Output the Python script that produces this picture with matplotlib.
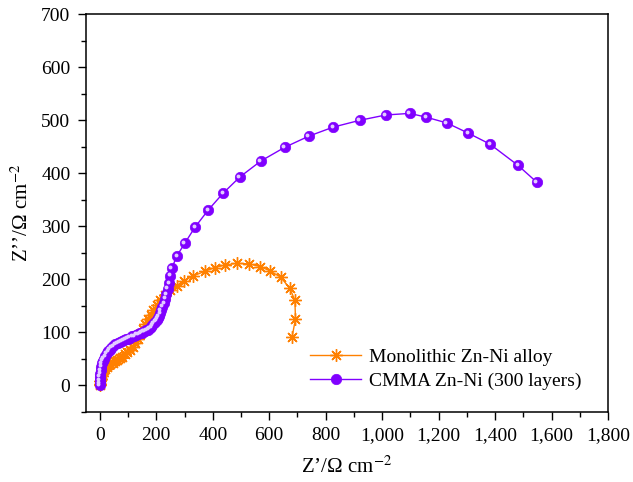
import matplotlib
matplotlib.use("Agg")
import matplotlib.pyplot as plt
from matplotlib.ticker import MultipleLocator, FuncFormatter
from matplotlib.transforms import offset_copy

plt.rcParams['font.family'] = ['Liberation Serif', 'DejaVu Serif']
plt.rcParams['mathtext.fontset'] = 'stix'

# Nyquist data (Z' real, Z'' imaginary), Ohm cm^-2
mono_zre = [0, 1, 2, 4, 6, 9, 13, 18, 24, 30, 37, 45, 53, 62, 71, 80, 89, 98,
            107, 116, 125, 134, 143, 152, 161, 170, 180, 190, 201, 214, 230,
            250, 272, 298, 330, 372, 407, 445, 485, 529, 567, 602, 640, 673,
            691, 693, 681]
mono_zim = [0, 3, 7, 12, 17, 22, 27, 31, 35, 38, 40, 42, 45, 48, 51, 54, 58, 62,
            67, 73, 80, 88, 97, 106, 115, 124, 133, 142, 151, 160, 170,
            180, 188, 197, 206, 215, 222, 227, 230, 229, 224, 216, 204, 183,
            160, 125, 91]

cmma_zre = [0, 0, 0, 0, 1, 2.5, 4, 7, 10, 14, 19, 24, 30, 35, 41, 47, 55, 63,
            70, 78, 85, 92, 99, 106, 114, 122, 129, 136, 142, 148, 154, 159,
            165, 171, 176, 181, 186, 191, 196, 201, 205, 209, 213, 216, 221,
            227, 231, 236, 241, 246, 250, 255, 273, 301, 337, 383, 436, 496,
            570, 655, 740, 826, 921, 1013, 1098, 1155, 1229, 1304, 1382, 1481,
            1548]
cmma_zim = [0, 4, 9, 16, 22, 28, 35, 41, 46, 50, 55, 60, 64, 67, 71, 74, 77, 79,
            81, 83, 85, 87, 88, 90, 92, 93, 95, 96, 98, 99, 101, 102,
            104, 105, 108, 110, 113, 117, 120, 123, 127, 130, 136, 142, 148,
            155, 163, 172, 182, 192, 207, 221, 244, 268, 298, 330, 362, 393,
            423, 449, 470, 487, 500, 510, 513, 506, 495, 476, 455, 415,
            383]

labels = ["Monolithic Zn-Ni alloy", "CMMA Zn-Ni (300 layers)"]
orange = "#FF8000"
violet = "#8000FF"

fig = plt.figure(figsize=(6.33, 4.82), dpi=100)
ax = fig.add_axes([0.1354, 0.1459, 0.8251, 0.8244])

ax.plot(mono_zre, mono_zim, color=orange, lw=1.0, marker=(8, 2, 0),
        markersize=9, markeredgewidth=1.0, label=labels[0], zorder=3)
ax.plot(cmma_zre, cmma_zim, color=violet, lw=1.0, marker='o',
        markersize=7.5, markerfacecolor=violet, markeredgecolor=violet,
        markeredgewidth=0.5, label=labels[1], zorder=4)
# glossy highlight on the spheres
hl = offset_copy(ax.transData, fig=fig, x=-1.0, y=1.0, units='points')
ax.plot(cmma_zre, cmma_zim, ls='none', marker='o', markersize=2.8,
        markerfacecolor='#E2CCFF', markeredgewidth=0, transform=hl, zorder=5)

ax.set_xlim(-50, 1800)
ax.set_ylim(-50, 700)
ax.xaxis.set_major_locator(MultipleLocator(200))
ax.xaxis.set_minor_locator(MultipleLocator(100))
ax.yaxis.set_major_locator(MultipleLocator(100))
ax.yaxis.set_minor_locator(MultipleLocator(50))
ax.xaxis.set_major_formatter(FuncFormatter(lambda v, p: f"{int(v):,}"))

ax.tick_params(which='both', direction='out', top=False, right=False,
               labelsize=14, width=1.0, colors='black')
ax.tick_params(which='major', length=6, pad=5)
ax.tick_params(which='minor', length=3.5)
for s in ax.spines.values():
    s.set_linewidth(1.1)

ax.set_xlabel("Z’/Ω cm$^{-2}$", fontsize=15, labelpad=9)
ax.set_ylabel("Z’’/Ω cm$^{-2}$", fontsize=15, labelpad=6)

ax.legend(loc='lower right', bbox_to_anchor=(0.975, 0.02), frameon=False,
          fontsize=14, handlelength=2.6, handletextpad=0.4, labelspacing=0.35,
          borderpad=0.2)

fig.savefig("out.png", dpi=100)
